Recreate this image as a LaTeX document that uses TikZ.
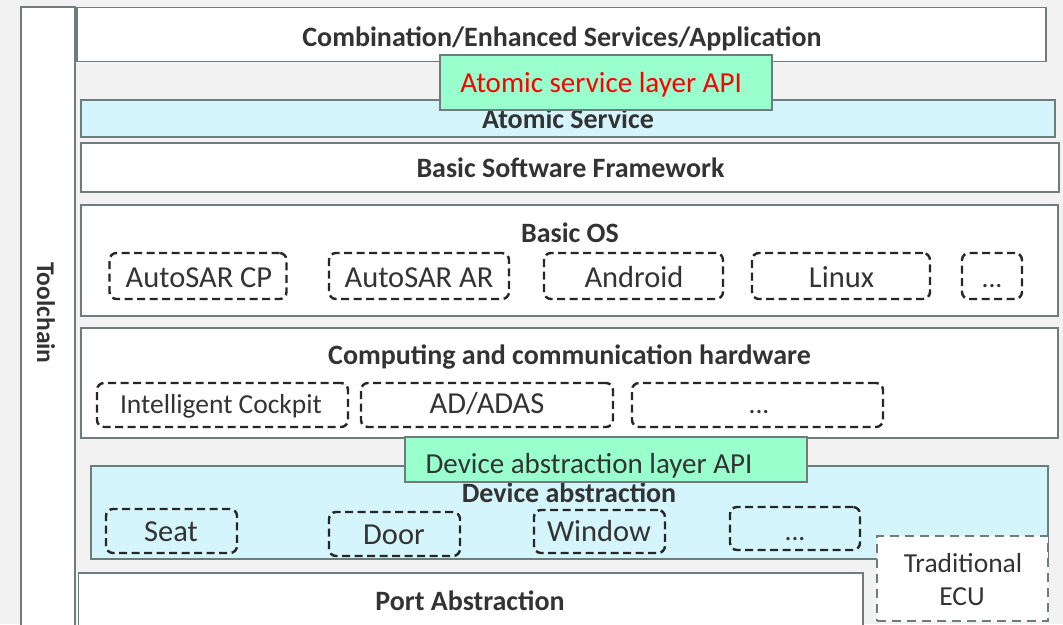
\documentclass[tikz,border=0pt]{standalone}
\usepackage{fontspec}
\setmainfont{Carlito}
\definecolor{bg}{HTML}{F2F2F2}
\definecolor{edge}{HTML}{6E7C7C}
\definecolor{lblue}{HTML}{D4F5FB}
\definecolor{mint}{HTML}{99FFCC}
\definecolor{ink}{HTML}{333333}
\definecolor{dash}{HTML}{262626}
\begin{document}
\begin{tikzpicture}[x=1pt,y=-1pt,
  layer/.style={draw=edge,line width=1.6pt,fill=white,inner sep=0pt,outer sep=0pt},
  bluelayer/.style={layer,fill=lblue},
  apibox/.style={layer,fill=mint},
  dbox/.style={draw=dash,line width=2.4pt,dash pattern=on 8pt off 4.5pt,rounded corners=7pt,inner sep=0pt,outer sep=0pt},
  ecubox/.style={draw=edge,line width=2.3pt,dash pattern=on 9pt off 6pt,fill=white,inner sep=0pt,outer sep=0pt},
  btxt/.style={anchor=base,inner sep=0pt,text=ink,font=\fontsize{28}{34}\selectfont\bfseries},
  rtxt/.style={anchor=base,inner sep=0pt,text=ink,font=\fontsize{30.5}{36}\selectfont},
  stxt/.style={anchor=base,inner sep=0pt,text=ink,font=\fontsize{27.5}{33}\selectfont},
  apitxt/.style={anchor=base,inner sep=0pt,font=\fontsize{29}{35}\selectfont}]
\useasboundingbox (0,0) rectangle (1063,624);
\fill[bg] (0,0) rectangle (1063,624);
% toolchain column
\node[layer,minimum width=54pt,minimum height=633pt] (tool) at (48,323.5) {};
\node[anchor=center,inner sep=0pt,text=ink,rotate=-90,font=\fontsize{25.5}{30}\selectfont\bfseries] (ttool) at (46,313) {Toolchain};
% layers
\node[layer,minimum width=969pt,minimum height=54pt] (comb) at (561.5,34.6) {};
\node[btxt] (tcomb) at (562,46) {Combination/Enhanced Services/Application};
\node[bluelayer,minimum width=974pt,minimum height=37pt] (atom) at (568,118.5) {};
\node[btxt] (tatom) at (568,128) {Atomic Service};
\node[layer,minimum width=978pt,minimum height=49pt] (bsf) at (570,167.5) {};
\node[btxt] (tbsf) at (570.5,177) {Basic Software Framework};
\node[layer,minimum width=977pt,minimum height=111pt] (os) at (569.5,260.5) {};
\node[btxt] (tos) at (570,242) {Basic OS};
\node[layer,minimum width=977pt,minimum height=110pt] (hw) at (569.5,383) {};
\node[btxt] (thw) at (569.5,364) {Computing and communication hardware};
\node[bluelayer,minimum width=957pt,minimum height=93pt] (da) at (569.5,512.5) {};
\node[btxt] (tda) at (569,502) {Device abstraction};
\node[ecubox,minimum width=171pt,minimum height=85pt] (ecu) at (962.5,578.5) {};
\node[stxt] (tecu1) at (963,572) {Traditional};
\node[stxt] (tecu2) at (962,605) {ECU};
\node[layer,minimum width=784.5pt,minimum height=67pt] (port) at (470.75,606.5) {};
\node[btxt] (tport) at (470,610) {Port Abstraction};
% OS row
\node[dbox,minimum width=177pt,minimum height=46pt] (cp) at (198,276) {};
\node[rtxt] (tcp) at (199,287) {AutoSAR CP};
\node[dbox,minimum width=180pt,minimum height=46pt] (ar) at (419,276) {};
\node[rtxt] (tar) at (419,287) {AutoSAR AR};
\node[dbox,minimum width=179pt,minimum height=46pt] (andr) at (633.5,276) {};
\node[rtxt] (tandr) at (634,287) {Android};
\node[dbox,minimum width=178pt,minimum height=46pt] (lin) at (841,276) {};
\node[rtxt] (tlin) at (841.5,287) {Linux};
\node[dbox,minimum width=60pt,minimum height=46pt] (osdots) at (992,276) {};
\node[stxt] (tosdots) at (992,287) {...};
% HW row
\node[dbox,minimum width=251pt,minimum height=44pt] (ic) at (222.5,405) {};
\node[stxt] (tic) at (221,413) {Intelligent Cockpit};
\node[dbox,minimum width=252pt,minimum height=44pt] (adas) at (487,405) {};
\node[rtxt] (tadas) at (487,413) {AD/ADAS};
\node[dbox,minimum width=251pt,minimum height=44pt] (hwdots) at (757.5,405) {};
\node[stxt] (thwdots) at (759,413) {...};
% DA row
\node[dbox,minimum width=131pt,minimum height=44pt] (seat) at (171.5,531) {};
\node[rtxt] (tseat) at (171,541) {Seat};
\node[dbox,minimum width=131pt,minimum height=44pt] (door) at (394.5,534) {};
\node[rtxt] (tdoor) at (394,544) {Door};
\node[dbox,minimum width=131pt,minimum height=43pt] (win) at (599.5,531.5) {};
\node[rtxt] (twin) at (599,541.5) {Window};
\node[dbox,minimum width=130pt,minimum height=43pt] (dadots) at (795,528.5) {};
\node[stxt] (tdadots) at (795,540) {...};
% API boxes
\node[apibox,minimum width=332pt,minimum height=55pt] (api1) at (606,82.5) {};
\node[apitxt,text=red] (tapi1) at (601,92) {Atomic service layer API};
\node[apibox,minimum width=402pt,minimum height=45pt] (api2) at (606,459.5) {};
\node[apitxt,text=ink] (tapi2) at (589,473) {Device abstraction layer API};
\end{tikzpicture}
\end{document}
